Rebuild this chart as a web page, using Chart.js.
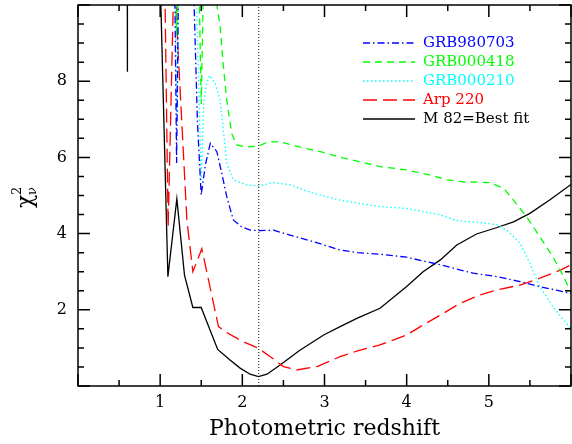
<!DOCTYPE html>
<html>
<head>
<meta charset="utf-8">
<script src="https://cdn.jsdelivr.net/npm/chart.js@4.4.1/dist/chart.umd.min.js"></script>
<style>
  body { margin: 0; background: #fff; }
  #wrap { width: 572px; height: 444px; }
</style>
</head>
<body>
<div id="wrap"><canvas id="chi2Chart"></canvas></div>
<script>
// Kurvor: fotometrisk rödförskjutning (z) mot reducerad chi2
const seriesLabels = ["GRB980703", "GRB000418", "GRB000210", "Arp 220", "M 82=Best fit"];

const grb980703Z   = [1.00, 1.17, 1.20, 1.23, 1.40, 1.454, 1.499, 1.55, 1.61, 1.69, 1.75, 1.81, 1.89, 1.99, 2.095, 2.22, 2.38, 2.58, 2.86, 3.19, 3.40, 3.676, 4.00, 4.41, 4.81, 5.10, 5.38, 5.62, 6.00];
const grb980703Chi = [12.0, 12.0, 5.85, 12.0, 11.0, 6.90, 5.01, 5.80, 6.37, 6.15, 5.58, 4.97, 4.36, 4.18, 4.09, 4.08, 4.09, 3.96, 3.79, 3.57, 3.50, 3.46, 3.38, 3.18, 2.96, 2.87, 2.74, 2.61, 2.43];

const grb000418Z   = [1.00, 1.17, 1.20, 1.23, 1.46, 1.50, 1.54, 1.67, 1.69, 1.73, 1.77, 1.81, 1.87, 1.93, 2.05, 2.196, 2.32, 2.46, 2.70, 2.95, 3.20, 3.676, 4.00, 4.28, 4.49, 4.69, 5.01, 5.18, 5.30, 5.46, 5.62, 5.78, 5.91, 6.00];
const grb000418Chi = [12.0, 12.0, 9.20, 12.0, 12.0, 7.40, 12.0, 11.0, 10.0, 9.43, 8.38, 7.50, 6.63, 6.33, 6.27, 6.30, 6.41, 6.41, 6.27, 6.15, 6.00, 5.76, 5.67, 5.54, 5.41, 5.36, 5.34, 5.19, 4.88, 4.44, 3.92, 3.39, 2.87, 2.45];

const grb000210Z   = [1.00, 1.17, 1.205, 1.235, 1.44, 1.50, 1.53, 1.56, 1.60, 1.67, 1.73, 1.77, 1.81, 1.89, 2.05, 2.196, 2.38, 2.58, 2.86, 3.19, 3.40, 3.676, 4.00, 4.41, 4.61, 4.89, 5.10, 5.22, 5.38, 5.50, 5.62, 5.78, 6.00];
const grb000210Chi = [12.0, 12.0, 7.00, 12.0, 10.2, 5.40, 7.40, 7.90, 8.15, 7.94, 7.50, 6.70, 5.85, 5.41, 5.28, 5.25, 5.34, 5.28, 5.06, 4.88, 4.80, 4.71, 4.66, 4.49, 4.34, 4.29, 4.23, 4.09, 3.75, 3.22, 2.61, 2.08, 1.50];

const arp220Z   = [1.00, 1.06, 1.097, 1.17, 1.19, 1.203, 1.325, 1.398, 1.507, 1.71, 1.79, 2.01, 2.196, 2.34, 2.50, 2.66, 2.91, 3.19, 3.40, 3.676, 4.00, 4.20, 4.41, 4.65, 4.89, 5.10, 5.38, 5.62, 5.87, 6.00];
const arp220Chi = [12.0, 10.0, 4.17, 11.0, 11.0, 9.43, 4.36, 3.00, 3.60, 1.56, 1.43, 1.16, 0.99, 0.77, 0.51, 0.42, 0.51, 0.77, 0.92, 1.08, 1.34, 1.60, 1.86, 2.17, 2.39, 2.52, 2.65, 2.83, 3.04, 3.18];

const m82Z   = [0.50, 0.597, 0.600, 0.603, 0.95, 1.005, 1.094, 1.203, 1.296, 1.398, 1.499, 1.70, 1.85, 1.973, 2.095, 2.196, 2.30, 2.46, 2.70, 2.99, 3.19, 3.40, 3.676, 4.00, 4.20, 4.41, 4.61, 4.85, 5.10, 5.30, 5.50, 5.74, 6.00];
const m82Chi = [14.0, 14.0, 8.25, 14.0, 14.0, 10.3, 2.87, 4.91, 2.91, 2.06, 2.06, 0.96, 0.68, 0.47, 0.31, 0.245, 0.31, 0.55, 0.94, 1.34, 1.56, 1.78, 2.04, 2.61, 3.00, 3.31, 3.70, 3.99, 4.16, 4.31, 4.53, 4.88, 5.29];

// Bästa anpassningens rödförskjutning (prickad linje)
const bestFitZ = 2.2;

// Axelgränser och märkta ticks
const xRange = [0, 6];
const yRange = [0, 10];
const xTickLabels = [1, 2, 3, 4, 5];
const yTickLabels = [2, 4, 6, 8];

const fontFamily = "'DejaVu Serif', 'Liberation Serif', serif";

function toPoints(zs, chis) {
    return zs.map((z, i) => ({ x: z, y: chis[i] }));
}

const curves = [
    { z: grb980703Z, chi: grb980703Chi, color: "#0000ff", dash: [7, 3, 1.5, 3] },
    { z: grb000418Z, chi: grb000418Chi, color: "#00ff00", dash: [7, 5] },
    { z: grb000210Z, chi: grb000210Chi, color: "#00ffff", dash: [1.5, 2.5] },
    { z: arp220Z, chi: arp220Chi, color: "#ff0000", dash: [14, 6] },
    { z: m82Z, chi: m82Chi, color: "#000000", dash: [] }
];

const datasets = curves.map((c, i) => ({
    label: seriesLabels[i],
    data: toPoints(c.z, c.chi),
    showLine: true,
    borderColor: c.color,
    borderDash: c.dash,
    borderWidth: 1.3,
    pointRadius: 0,
    tension: 0,
    fill: false
}));

// prickad vertikal linje vid bästa z
datasets.push({
    label: "best",
    data: [{ x: bestFitZ, y: yRange[0] }, { x: bestFitZ, y: yRange[1] }],
    showLine: true,
    borderColor: "#000",
    borderDash: [1, 2],
    borderWidth: 1,
    pointRadius: 0
});

// Ram med inåtriktade ticks på alla fyra sidor
const framePlugin = {
    id: "frame",
    afterDatasetsDraw(chart) {
        const { ctx, chartArea: a, scales: { x, y } } = chart;
        ctx.save();
        ctx.strokeStyle = "#000";
        ctx.lineWidth = 1.5;
        ctx.setLineDash([]);
        ctx.strokeRect(a.left, a.top, a.right - a.left, a.bottom - a.top);
        ctx.beginPath();
        for (let v = xRange[0]; v <= xRange[1] + 1e-9; v += 0.5) {
            const px = x.getPixelForValue(v);
            const len = Number.isInteger(v) ? 12 : 6;
            ctx.moveTo(px, a.bottom); ctx.lineTo(px, a.bottom - len);
            ctx.moveTo(px, a.top); ctx.lineTo(px, a.top + len);
        }
        for (let v = yRange[0]; v <= yRange[1] + 1e-9; v += 0.5) {
            const py = y.getPixelForValue(v);
            const len = v % 2 === 0 ? 12 : 6;
            ctx.moveTo(a.left, py); ctx.lineTo(a.left + len, py);
            ctx.moveTo(a.right, py); ctx.lineTo(a.right - len, py);
        }
        ctx.stroke();

        // y-axelns titel: chi^2 med index nu
        ctx.translate(32, 208);
        ctx.rotate(-Math.PI / 2);
        ctx.fillStyle = "#000";
        ctx.textBaseline = "alphabetic";
        ctx.textAlign = "left";
        ctx.font = "22px " + fontFamily;
        ctx.fillText("χ", 0, 0);
        ctx.font = "13px " + fontFamily;
        ctx.fillText("2", 13, -11);
        ctx.fillText("ν", 13, 4);
        ctx.restore();
    }
};

// Förklaring uppe till höger
const legendPlugin = {
    id: "legendBox",
    afterDraw(chart) {
        const ctx = chart.ctx;
        ctx.save();
        ctx.font = "15px " + fontFamily;
        ctx.textBaseline = "middle";
        ctx.textAlign = "left";
        curves.forEach((c, i) => {
            const rowY = 43 + i * 19;
            ctx.strokeStyle = c.color;
            ctx.lineWidth = 1.3;
            ctx.setLineDash(c.dash);
            ctx.beginPath();
            ctx.moveTo(363, rowY);
            ctx.lineTo(415, rowY);
            ctx.stroke();
            ctx.fillStyle = c.color;
            ctx.fillText(seriesLabels[i], 423, rowY);
        });
        ctx.restore();
    }
};

new Chart(document.getElementById("chi2Chart"), {
    type: "scatter",
    data: { datasets: datasets },
    options: {
        responsive: true,
        maintainAspectRatio: false,
        animation: false,
        layout: { padding: { left: 0, right: 1, top: 5, bottom: 0 } },
        plugins: {
            legend: { display: false },
            tooltip: { enabled: false }
        },
        scales: {
            x: {
                type: "linear",
                min: xRange[0],
                max: xRange[1],
                afterBuildTicks: s => { s.ticks = xTickLabels.map(v => ({ value: v })); },
                afterFit: s => { s.height = 58; s.paddingLeft = 0; s.paddingRight = 0; },
                grid: { display: false, drawTicks: false },
                border: { display: false },
                ticks: {
                    color: "#000",
                    font: { family: fontFamily, size: 16 },
                    padding: 7,
                    maxRotation: 0,
                    autoSkip: false
                },
                title: {
                    display: true,
                    text: "Photometric redshift",
                    color: "#000",
                    font: { family: fontFamily, size: 22 },
                    padding: { top: 0, bottom: 2 }
                }
            },
            y: {
                type: "linear",
                min: yRange[0],
                max: yRange[1],
                afterBuildTicks: s => { s.ticks = yTickLabels.map(v => ({ value: v })); },
                afterFit: s => { s.width = 78; s.paddingTop = 0; s.paddingBottom = 0; },
                grid: { display: false, drawTicks: false },
                border: { display: false },
                ticks: {
                    color: "#000",
                    font: { family: fontFamily, size: 16 },
                    padding: 11
                }
            }
        }
    },
    plugins: [framePlugin, legendPlugin]
});
</script>
</body>
</html>
